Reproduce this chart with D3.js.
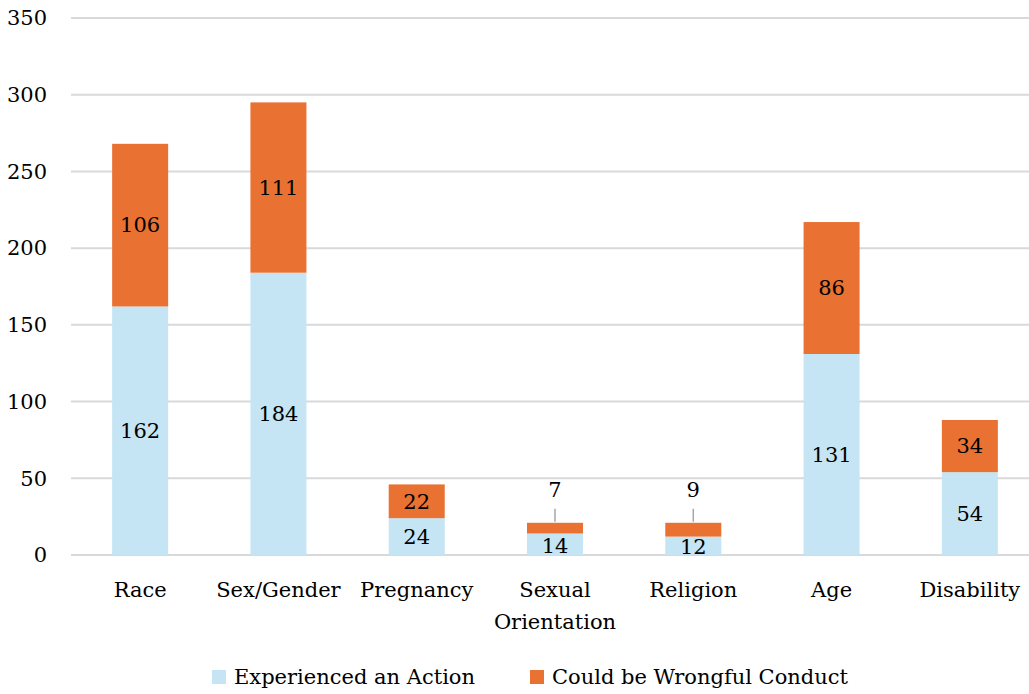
<!DOCTYPE html>
<html><head><meta charset="utf-8">
<script src="https://cdn.jsdelivr.net/npm/d3@7/dist/d3.min.js"></script>
<style>body{margin:0;background:#fff}svg{display:block}text{font-family:"Palatino Linotype","Book Antiqua",Palatino,"DejaVu Serif",serif;fill:#000}</style>
</head><body><svg id="c" width="1029" height="694"></svg>
<script>
const categories = ["Race","Sex/Gender","Pregnancy","Sexual Orientation","Religion","Age","Disability"];
const experienced = [162,184,24,14,12,131,54];
const wrongful = [106,111,22,7,9,86,34];
const yTicks = [0,50,100,150,200,250,300,350];
const seriesNames = ["Experienced an Action","Could be Wrongful Conduct"];
const colors = ["#C5E5F4","#E97132"];

const svg = d3.select("#c");
const x = d3.scaleBand().domain(categories).range([71,1039]).paddingInner(0.595).paddingOuter(0.2975);
const y = d3.scaleLinear().domain([0,350]).range([555,18]);
const fs = 21;

// grid
svg.append("g").selectAll("line").data(yTicks).join("line")
  .attr("x1",71).attr("x2",1029).attr("y1",d=>y(d)).attr("y2",d=>y(d))
  .attr("stroke","#d9d9d9").attr("stroke-width",2);
svg.append("g").selectAll("text").data(yTicks).join("text")
  .attr("x",47).attr("y",d=>y(d)).attr("dy","0.35em").attr("text-anchor","end")
  .attr("font-size",fs).text(d=>d);

const data = categories.map((c,i)=>({c, a:experienced[i], b:wrongful[i]}));
const g = svg.append("g");
g.selectAll("rect.a").data(data).join("rect").attr("class","a")
  .attr("x",d=>x(d.c)).attr("width",x.bandwidth())
  .attr("y",d=>y(d.a)).attr("height",d=>y(0)-y(d.a)).attr("fill",colors[0]);
g.selectAll("rect.b").data(data).join("rect").attr("class","b")
  .attr("x",d=>x(d.c)).attr("width",x.bandwidth())
  .attr("y",d=>y(d.a+d.b)).attr("height",d=>y(d.a)-y(d.a+d.b)).attr("fill",colors[1]);

const cx = d=>x(d.c)+x.bandwidth()/2;
g.selectAll("text.a").data(data).join("text").attr("class","a")
  .attr("x",cx).attr("y",d=>d.a<20? y(d.a/2)+1 : y(d.a/2)).attr("dy","0.35em").attr("text-anchor","middle")
  .attr("font-size",fs).text(d=>d.a);
const small = d=>d.b<10;
g.selectAll("text.b").data(data).join("text").attr("class","b")
  .attr("x",cx).attr("y",d=>small(d)? y(d.a+d.b)-33 : y(d.a+d.b/2)).attr("dy","0.35em").attr("text-anchor","middle")
  .attr("font-size",fs).text(d=>d.b);
g.selectAll("line.lead").data(data.filter(small)).join("line").attr("class","lead")
  .attr("x1",cx).attr("x2",cx).attr("y1",d=>y(d.a+d.b)-1).attr("y2",d=>y(d.a+d.b)-14)
  .attr("stroke","#a6a6a6").attr("stroke-width",1.5);

// x labels
const lab = svg.append("g").selectAll("text").data(categories).join("text")
  .attr("x",d=>x(d)+x.bandwidth()/2).attr("y",597).attr("text-anchor","middle").attr("font-size",fs);
lab.each(function(d){
  const t=d3.select(this);
  const parts = d==="Sexual Orientation" ? ["Sexual","Orientation"] : [d];
  parts.forEach((p,i)=>t.append("tspan").attr("x",x(d)+x.bandwidth()/2).attr("dy",i?32:0).text(p));
});

// legend
const leg = [{x:212,tx:234},{x:530,tx:552}];
seriesNames.forEach((n,i)=>{
  svg.append("rect").attr("x",leg[i].x).attr("y",670).attr("width",14).attr("height",14).attr("fill",colors[i]);
  svg.append("text").attr("x",leg[i].tx).attr("y",677).attr("dy","0.35em").attr("font-size",fs).text(n);
});
</script></body></html>
